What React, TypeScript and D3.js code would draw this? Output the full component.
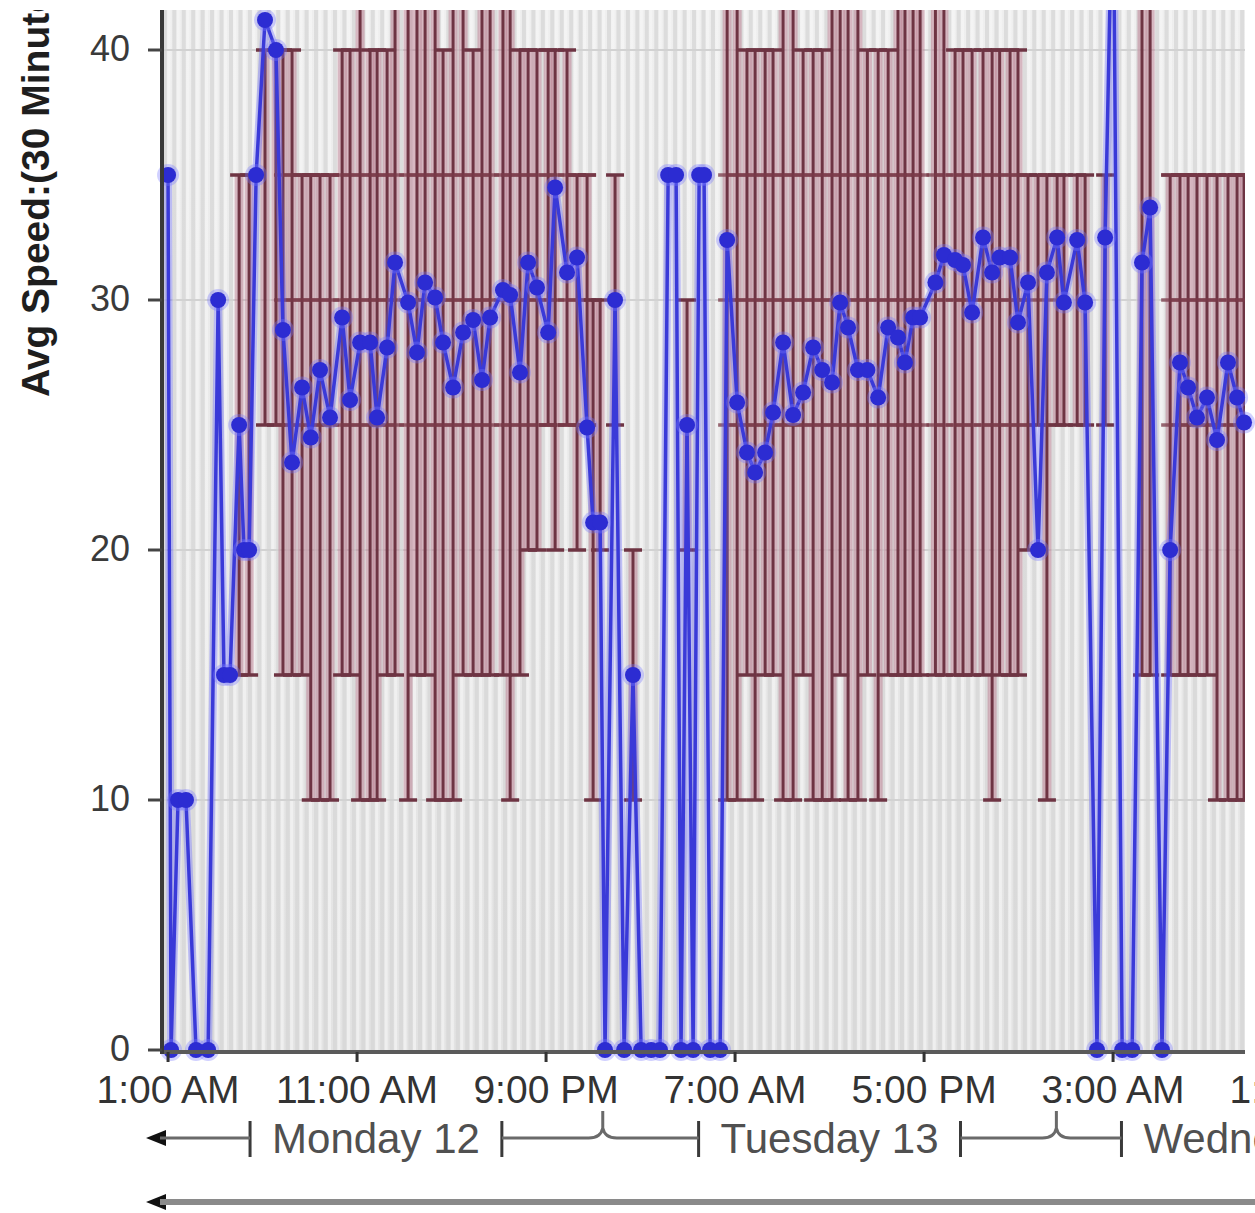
import React, { useEffect, useRef } from "react";
import * as d3 from "d3";

const W = 1255;
const H = 1213;

// Blue series: average speed, time in hours since Monday 00:00
const speedHours = [
  1.0, 1.16, 1.53, 1.95, 2.48, 3.12, 3.65, 3.96, 4.28, 4.76, 5.02, 5.29, 5.66, 6.13, 6.71,
  7.08, 7.56, 8.09, 8.55, 9.04, 9.57, 10.21, 10.63, 11.16, 11.69, 12.06, 12.59, 13.01, 13.7,
  14.17, 14.6, 15.13, 15.55, 16.08, 16.61, 17.14, 17.61, 18.04, 18.72, 19.1, 19.62, 20.05,
  20.52, 21.11, 21.48, 22.11, 22.64, 23.17, 23.49, 23.86, 24.12, 24.65, 25.13, 25.6, 26.03,
  26.56, 27.03, 27.46, 27.88, 28.14, 28.46, 28.78, 29.1, 29.36, 29.68, 30.21, 30.58, 31.11,
  31.63, 32.06, 32.59, 33.01, 33.54, 34.07, 34.6, 35.13, 35.61, 36.13, 36.56, 36.98, 37.5,
  38.0, 38.57, 39.1, 39.62, 39.99, 40.42, 40.79, 41.6, 42.05, 42.64, 43.06, 43.54, 44.12,
  44.6, 45.0, 45.55, 45.97, 46.5, 47.03, 47.5, 48.04, 48.4, 49.1, 49.52, 50.15, 50.58, 51.0,
  51.48, 52.01, 52.53, 52.96, 53.59, 54.02, 54.54, 54.97, 55.44, 55.97, 56.5, 57.08, 57.56,
  57.93,
];
const speedValues = [
  35, 0, 10, 10, 0, 0, 30, 15, 15, 25, 20, 20, 35, 41.2, 40,
  28.8, 23.5, 26.5, 24.5, 27.2, 25.3, 29.3, 26, 28.3, 28.3, 25.3, 28.1, 31.5, 29.9,
  27.9, 30.7, 30.1, 28.3, 26.5, 28.7, 29.2, 26.8, 29.3, 30.4, 30.2, 27.1, 31.5,
  30.5, 28.7, 34.5, 31.1, 31.7, 24.9, 21.1, 21.1, 0, 30, 0, 15, 0,
  0, 0, 35, 35, 0, 25, 0, 35, 35, 0, 0, 32.4, 25.9,
  23.9, 23.1, 23.9, 25.5, 28.3, 25.4, 26.3, 28.1, 27.2, 26.7, 29.9, 28.9, 27.2,
  27.2, 26.1, 28.9, 28.5, 27.5, 29.3, 29.3, 30.7, 31.8, 31.6, 31.4, 29.5, 32.5,
  31.1, 31.7, 31.7, 29.1, 30.7, 20, 31.1, 32.5, 29.9, 32.4, 29.9, 0, 32.5, 48,
  0, 0, 31.5, 33.7, 0, 20, 27.5, 26.5, 25.3, 26.1, 24.4, 27.5, 26.1,
  25.1,
];

// Maroon range bars (min / max and quartiles), same time base
const barHours = [
  4.76, 5.29, 6.13, 6.71,
  7.08, 7.56, 8.09, 8.55, 9.04, 9.57, 10.21, 10.63, 11.16, 11.69, 12.06, 12.59, 13.01, 13.7,
  14.17, 14.6, 15.13, 15.55, 16.08, 16.61, 17.14, 17.61, 18.04, 18.72, 19.1, 19.62, 20.05,
  20.52, 21.11, 21.48, 22.11, 22.64, 23.17, 23.49, 23.86, 24.65, 25.6, 28.46,
  30.58, 31.11, 31.63, 32.06, 32.59, 33.01, 33.54, 34.07, 34.6, 35.13, 35.61, 36.13, 36.56,
  36.98, 37.5, 38.0, 38.57, 39.1, 39.62, 39.99, 40.42, 40.79, 41.6, 42.05, 42.64, 43.06,
  43.54, 44.12, 44.6, 45.0, 45.55, 45.97, 46.5, 47.03, 47.5, 48.04, 48.4, 49.1, 49.52,
  50.58, 52.53, 52.96,
  54.02, 54.54, 54.97, 55.44, 55.97, 56.5, 57.08, 57.56, 57.93,
];
const barLow = [
  15, 15, 25, 25,
  15, 15, 15, 10, 10, 10, 15, 15, 10, 10, 10, 15, 15, 10,
  15, 15, 10, 10, 10, 15, 15, 15, 15, 15, 10, 15, 20,
  20, 25, 20, 25, 20, 25, 10, 20, 25, 10, 20,
  10, 10, 15, 10, 15, 15, 10, 10, 15, 10, 10, 10, 15,
  10, 10, 15, 10, 15, 15, 15, 15, 15, 15, 15, 15, 15,
  15, 15, 10, 15, 15, 15, 20, 25, 10, 25, 25, 25, 25,
  25, 15, 15,
  15, 15, 15, 15, 15, 10, 10, 10, 10,
];
const barHigh = [
  35, 35, 40, 40,
  40, 40, 35, 35, 35, 35, 40, 40, 45, 40, 40, 40, 45, 45,
  45, 45, 45, 40, 45, 45, 40, 45, 45, 45, 45, 40, 40,
  40, 40, 40, 40, 35, 35, 30, 30, 35, 20, 30,
  45, 45, 40, 40, 40, 40, 45, 45, 40, 40, 40, 45, 45,
  45, 45, 40, 40, 40, 45, 45, 45, 45, 45, 45, 40, 40,
  40, 40, 40, 40, 40, 40, 35, 35, 35, 35, 35, 35, 35,
  35, 45, 45,
  35, 35, 35, 35, 35, 35, 35, 35, 35,
];
const Q = null;
const barQ1 = [
  Q, Q, Q, Q,
  25, 25, 25, 25, 25, 25, 25, 25, 25, 25, 25, 25, 25, 25,
  25, 25, 25, 25, 25, 25, 25, 25, 25, 25, 25, 25, 25,
  25, 25, 25, 25, 25, 25, Q, Q, Q, Q, Q,
  25, 25, 25, 25, 25, 25, 25, 25, 25, 25, 25, 25, 25,
  25, 25, 25, 25, 25, 25, 25, 25, 25, 25, 25, 25, 25,
  25, 25, 25, 25, 25, 25, 25, Q, 25, Q, Q, Q, Q,
  Q, Q, Q,
  25, 25, 25, 25, 25, 25, 25, 25, 25,
];
const barMedian = barQ1.map((v) => (v === null ? null : 30));
const barQ3 = barQ1.map((v) => (v === null ? null : 35));

const yTicks = [0, 10, 20, 30, 40];
const xTickHours = [1, 11, 21, 31, 41, 51, 61];
const dayLabels = ["Monday 12", "Tuesday 13", "Wednesday 14"];
const dayNoonHours = [12, 36, 60];
const midnightHours = [24, 48];
const yTitle = "Avg Speed:(30 Minutes)";

const FONT = "'Liberation Sans', Arial, Helvetica, sans-serif";

function fmtHour(h: number) {
  const hh = h % 24;
  const ap = hh < 12 ? "AM" : "PM";
  const h12 = hh % 12 === 0 ? 12 : hh % 12;
  return `${h12}:00 ${ap}`;
}

export default function App() {
  const ref = useRef<SVGSVGElement>(null);

  useEffect(() => {
    const svg = d3.select(ref.current);
    svg.selectAll("*").remove();

    const left = 162, right = 1245, top = 10, bottom = 1050;
    const x = d3.scaleLinear().domain([0.68, 57.98]).range([left, right]);
    const y = d3.scaleLinear().domain([0, 41.6]).range([bottom, top]);

    const defs = svg.append("defs");
    defs.append("clipPath").attr("id", "plotClip")
      .append("rect").attr("x", left).attr("y", top).attr("width", right - left).attr("height", bottom - top + 2);
    defs.append("clipPath").attr("id", "topClip")
      .append("rect").attr("x", 0).attr("y", top).attr("width", W).attr("height", H - top);
    const grad = defs.append("linearGradient").attr("id", "bgGrad")
      .attr("x1", 0).attr("y1", 0).attr("x2", 0).attr("y2", 1);
    grad.append("stop").attr("offset", "0%").attr("stop-color", "#efefef");
    grad.append("stop").attr("offset", "100%").attr("stop-color", "#e3e3e3");

    svg.append("rect").attr("width", W).attr("height", H).attr("fill", "#ffffff");
    const root = svg.append("g").attr("clip-path", "url(#topClip)");

    // plot background
    root.append("rect").attr("x", left).attr("y", top).attr("width", right - left)
      .attr("height", bottom - top).attr("fill", "url(#bgGrad)");
    const stripeHours = d3.range(0, 118).map((k) => 0.33 + 0.5 * k)
      .filter((h) => x(h) > left + 2 && x(h) < right - 2);
    const plot = root.append("g").attr("clip-path", "url(#plotClip)");
    plot.selectAll("rect.stripe").data(stripeHours).enter().append("rect")
      .attr("x", (h) => x(h) - 2).attr("y", top).attr("width", 4).attr("height", bottom - top)
      .attr("fill", "#d6d6d6").attr("opacity", 0.75);
    plot.selectAll("rect.stripe2").data(stripeHours).enter().append("rect")
      .attr("x", (h) => x(h) + 2.5).attr("y", top).attr("width", 3).attr("height", bottom - top)
      .attr("fill", "#f7f7f7").attr("opacity", 0.6);

    // horizontal grid
    plot.selectAll("line.grid").data(yTicks.filter((t) => t > 0)).enter().append("line")
      .attr("x1", left).attr("x2", right).attr("y1", (t) => y(t)).attr("y2", (t) => y(t))
      .attr("stroke", "#d2d2d2").attr("stroke-width", 2);

    // range bars
    const bars = barHours.map((h, i) => ({
      h, lo: barLow[i], hi: barHigh[i], q1: barQ1[i], med: barMedian[i], q3: barQ3[i],
    }));
    const barCore = "#6e3443";
    const barHalo = "rgba(190,125,145,0.5)";
    const capW = 9;
    const bg = plot.append("g");
    bars.forEach((b) => {
      const cx = x(b.h);
      bg.append("line").attr("x1", cx).attr("x2", cx).attr("y1", y(b.lo)).attr("y2", y(b.hi))
        .attr("stroke", barHalo).attr("stroke-width", 9);
    });
    bars.forEach((b) => {
      const cx = x(b.h);
      bg.append("line").attr("x1", cx).attr("x2", cx).attr("y1", y(b.lo)).attr("y2", y(b.hi))
        .attr("stroke", barCore).attr("stroke-width", 3);
      const levels = [b.lo, b.hi, b.q1, b.med, b.q3].filter((v) => v !== null) as number[];
      levels.forEach((v, k) => {
        bg.append("line").attr("x1", cx - capW).attr("x2", cx + capW)
          .attr("y1", y(v)).attr("y2", y(v))
          .attr("stroke", k < 2 ? barCore : "#7a3a48")
          .attr("stroke-opacity", k < 2 ? 1 : 0.75)
          .attr("stroke-width", 3.5);
      });
    });

    // blue series
    const pts = speedHours.map((h, i) => [h, speedValues[i]] as [number, number]);
    const line = d3.line<[number, number]>().x((d) => x(d[0])).y((d) => y(d[1]));
    root.append("path").attr("d", line(pts)).attr("fill", "none")
      .attr("stroke", "rgba(95,95,255,0.35)").attr("stroke-width", 8).attr("stroke-linejoin", "round");
    root.append("path").attr("d", line(pts)).attr("fill", "none")
      .attr("stroke", "#3a3ad8").attr("stroke-width", 3.5).attr("stroke-linejoin", "round");
    root.selectAll("circle.halo").data(pts).enter().append("circle")
      .attr("cx", (d) => x(d[0])).attr("cy", (d) => y(d[1])).attr("r", 11)
      .attr("fill", "rgba(120,120,255,0.35)");
    root.selectAll("circle.pt").data(pts).enter().append("circle")
      .attr("cx", (d) => x(d[0])).attr("cy", (d) => y(d[1])).attr("r", 8)
      .attr("fill", "#2c2cd2");

    // axes
    const axisY = 1052;
    root.append("line").attr("x1", left).attr("x2", right).attr("y1", axisY).attr("y2", axisY)
      .attr("stroke", "#5a5a5a").attr("stroke-width", 4);
    root.append("line").attr("x1", left).attr("x2", left).attr("y1", top).attr("y2", axisY + 2)
      .attr("stroke", "#3a3a3a").attr("stroke-width", 4);

    yTicks.forEach((t) => {
      svg.append("line").attr("x1", 148).attr("x2", left).attr("y1", y(t)).attr("y2", y(t))
        .attr("stroke", "#444").attr("stroke-width", 3);
      svg.append("text").attr("x", 130).attr("y", y(t) - 2).attr("dy", "0.36em")
        .attr("text-anchor", "end").attr("font-family", FONT).attr("font-size", 36)
        .attr("fill", "#3a3a3a").text(String(t));
    });

    xTickHours.forEach((h) => {
      const px = x(h);
      svg.append("line").attr("x1", px).attr("x2", px).attr("y1", axisY).attr("y2", axisY + 10)
        .attr("stroke", "#333").attr("stroke-width", 3);
      svg.append("text").attr("x", px).attr("y", 1103).attr("text-anchor", "middle")
        .attr("font-family", FONT).attr("font-size", 39).attr("fill", "#333")
        .text(fmtHour(h));
    });

    // y title
    root.append("text").attr("transform", "translate(49,397) rotate(-90)")
      .attr("text-anchor", "start").attr("font-family", FONT).attr("font-size", 39)
      .attr("font-weight", "bold").attr("fill", "#1e1e1e").text(yTitle);

    // day band
    const bandY = 1138;
    const lineCol = "#6a6a6a";
    const arrow = (yy: number) => {
      svg.append("path").attr("d", `M146,${yy} L166,${yy - 8} L166,${yy + 8} Z`).attr("fill", "#111");
    };
    arrow(bandY);
    const pad = 22;
    const edges: { l: number; r: number }[] = [];
    dayLabels.forEach((lab, i) => {
      const cx = x(dayNoonHours[i]);
      const t = svg.append("text").attr("x", cx).attr("y", 1153).attr("text-anchor", "middle")
        .attr("font-family", FONT).attr("font-size", 42).attr("fill", "#505050").text(lab);
      const w = (t.node() as SVGTextElement).getComputedTextLength();
      edges.push({ l: cx - w / 2 - pad, r: cx + w / 2 + pad });
    });
    const barTick = (bx: number) =>
      svg.append("line").attr("x1", bx).attr("x2", bx).attr("y1", 1121).attr("y2", 1157)
        .attr("stroke", "#3a3a3a").attr("stroke-width", 3);
    edges.forEach((e) => { barTick(e.l); barTick(e.r); });
    svg.append("line").attr("x1", 160).attr("x2", edges[0].l).attr("y1", bandY).attr("y2", bandY)
      .attr("stroke", lineCol).attr("stroke-width", 3);
    midnightHours.forEach((mh, i) => {
      const xm = x(mh);
      const a = edges[i].r, b = edges[i + 1].l;
      svg.append("path")
        .attr("d", `M${a},${bandY} L${xm - 14},${bandY} Q${xm - 2},${bandY} ${xm},${bandY - 10} L${xm},${bandY - 27} M${xm},${bandY - 10} Q${xm + 2},${bandY} ${xm + 14},${bandY} L${b},${bandY}`)
        .attr("fill", "none").attr("stroke", lineCol).attr("stroke-width", 3);
    });

    // second band (long arrow)
    arrow(1202);
    svg.append("line").attr("x1", 160).attr("x2", W).attr("y1", 1202).attr("y2", 1202)
      .attr("stroke", "#8a8a8a").attr("stroke-width", 6);
  }, []);

  return (
    <div style={{ position: "fixed", left: 0, top: 0, width: W, height: H, overflow: "hidden", background: "#fff" }}>
      <svg ref={ref} width={W} height={H} style={{ display: "block" }} />
    </div>
  );
}
